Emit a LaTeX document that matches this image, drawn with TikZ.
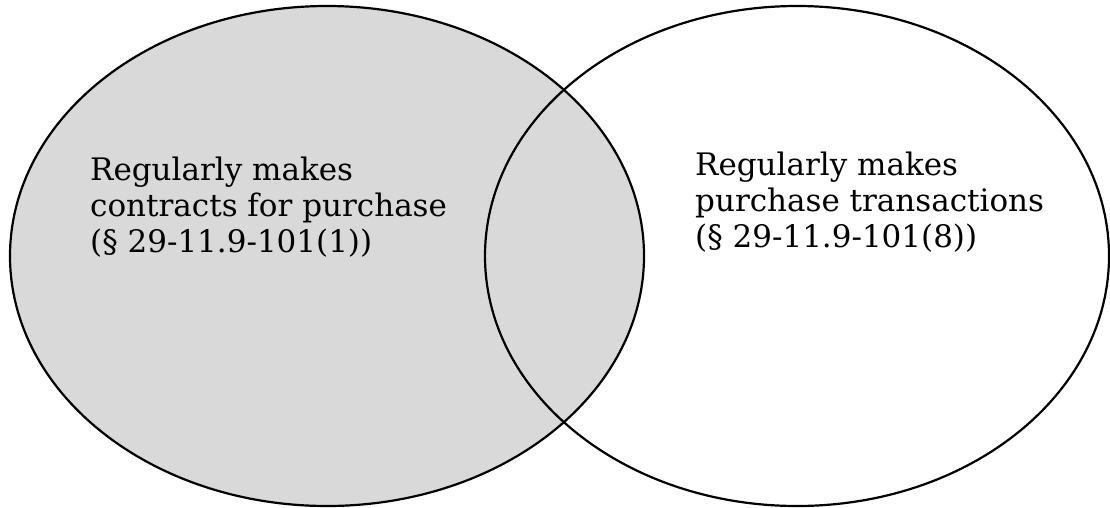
\documentclass[tikz,border=0pt]{standalone}
\usepackage{fontspec}
\setmainfont{DejaVu Serif}
\definecolor{setgrey}{HTML}{D9D9D9}
\tikzset{
  setline/.style={draw=black, line width=2.2pt},
  setlabel/.style={anchor=base west, align=left, inner sep=0pt, font=\fontsize{31}{36}\selectfont}
}
\begin{document}
\begin{tikzpicture}[x=1pt,y=-1pt]
\useasboundingbox (0,0) rectangle (1110,507);
\fill[white] (0,0) rectangle (1110,507);
\fill[setgrey] (327,256) ellipse [x radius=317, y radius=250];
\draw[setline] (327,256) ellipse [x radius=317, y radius=250];
\draw[setline] (797,256) ellipse [x radius=312, y radius=250];
\node[setlabel] (a) at (90,252) {Regularly makes\\contracts for purchase\\(§ 29-11.9-101(1))};
\node[setlabel] (b) at (695,247) {Regularly makes\\purchase transactions\\(§ 29-11.9-101(8))};
\end{tikzpicture}
\end{document}
